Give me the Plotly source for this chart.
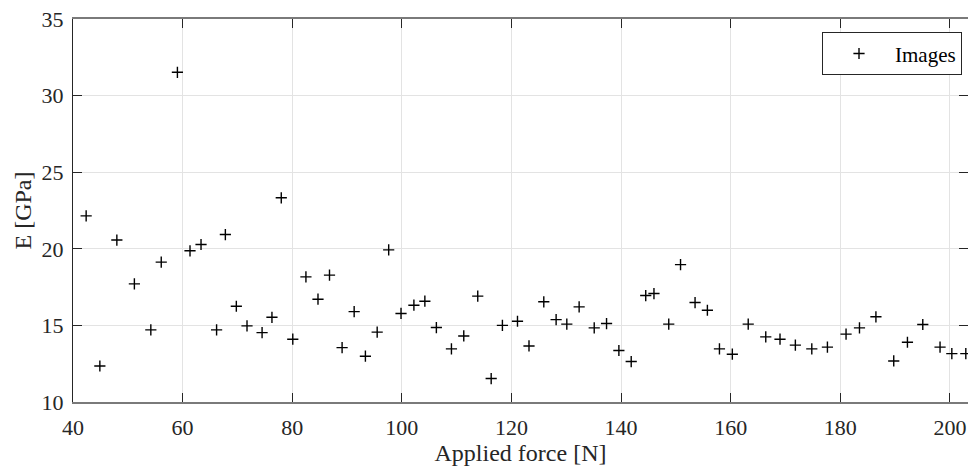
import plotly.graph_objects as go

force_n = [42.4, 44.9, 48.0, 51.2, 54.2, 56.1, 59.05, 61.35, 63.36, 66.2, 67.8, 69.8, 71.75, 74.5,
           76.3, 78.0, 80.1, 82.5, 84.7, 86.8, 89.1, 91.3, 93.35, 95.5, 97.6, 99.85, 102.2, 104.2,
           106.3, 109.05, 111.3, 113.85, 116.3, 118.35, 121.1, 123.2, 125.9, 128.15, 130.1, 132.35,
           135.1, 137.35, 139.6, 141.85, 144.5, 146.0, 148.7, 150.85, 153.5, 155.75, 157.95, 160.3,
           163.2, 166.4, 169.0, 171.8, 174.8, 177.65, 181.05, 183.5, 186.5, 189.75, 192.25, 195.05,
           198.2, 200.35, 202.9]
e_gpa = [22.15, 12.35, 20.57, 17.71, 14.71, 19.13, 31.52, 19.87, 20.28, 14.71, 20.93, 16.25, 14.97, 14.53,
         15.53, 23.33, 14.1, 18.17, 16.71, 18.28, 13.55, 15.9, 12.99, 14.56, 19.93, 15.78, 16.32, 16.58,
         14.86, 13.47, 14.31, 16.91, 11.53, 15.0, 15.27, 13.66, 16.54, 15.38, 15.08, 16.21,
         14.84, 15.12, 13.36, 12.64, 16.95, 17.08, 15.08, 18.97, 16.49, 15.99, 13.47, 13.12,
         15.08, 14.25, 14.1, 13.71, 13.47, 13.58, 14.43, 14.84, 15.56, 12.68, 13.9, 15.06,
         13.58, 13.16, 13.16]

x_ticks = [40, 60, 80, 100, 120, 140, 160, 180, 200]
y_ticks = [10, 15, 20, 25, 30, 35]

FONT = "Liberation Serif"
DARK = "#262626"

fig = go.Figure()
fig.add_trace(go.Scatter(
    x=force_n, y=e_gpa, mode="markers", name="Images",
    marker=dict(symbol="cross-thin", size=8, color="black",
                line=dict(color="black", width=1.4)),
))

fig.update_layout(
    width=968, height=468,
    margin=dict(l=73, r=0, t=19, b=66),
    paper_bgcolor="white", plot_bgcolor="white",
    font=dict(family=FONT, color=DARK, size=22),
    showlegend=True,
    legend=dict(
        x=0.9933, xanchor="right", y=0.9652, yanchor="top",
        bgcolor="white", bordercolor=DARK, borderwidth=1,
        font=dict(family=FONT, size=21, color="black"),
        itemwidth=62,
    ),
    xaxis=dict(
        range=[40, 203.3], tickvals=x_ticks, ticktext=[str(v) for v in x_ticks],
        showgrid=True, gridcolor="#e3e3e3", gridwidth=1,
        showline=True, linecolor="#7a7a7a", linewidth=1.5, mirror="ticks",
        ticks="inside", ticklen=9, tickcolor=DARK, tickwidth=1,
        zeroline=False, ticklabelstandoff=5,
        tickfont=dict(family=FONT, size=22, color=DARK),
        title=dict(text="Applied force [N]", font=dict(family=FONT, size=24, color=DARK), standoff=3),
    ),
    yaxis=dict(
        range=[10, 35], tickvals=y_ticks, ticktext=[str(v) for v in y_ticks],
        showgrid=True, gridcolor="#e3e3e3", gridwidth=1,
        showline=True, linecolor=DARK, linewidth=1, mirror="ticks",
        ticks="inside", ticklen=9, tickcolor=DARK, tickwidth=1,
        zeroline=False, ticklabelstandoff=4,
        tickfont=dict(family=FONT, size=22, color=DARK),
        title=dict(text="E [GPa]", font=dict(family=FONT, size=24, color=DARK), standoff=3),
    ),
)

fig.write_html("out.html", config={"displayModeBar": False},
               post_script="document.body.style.margin='0px';")
